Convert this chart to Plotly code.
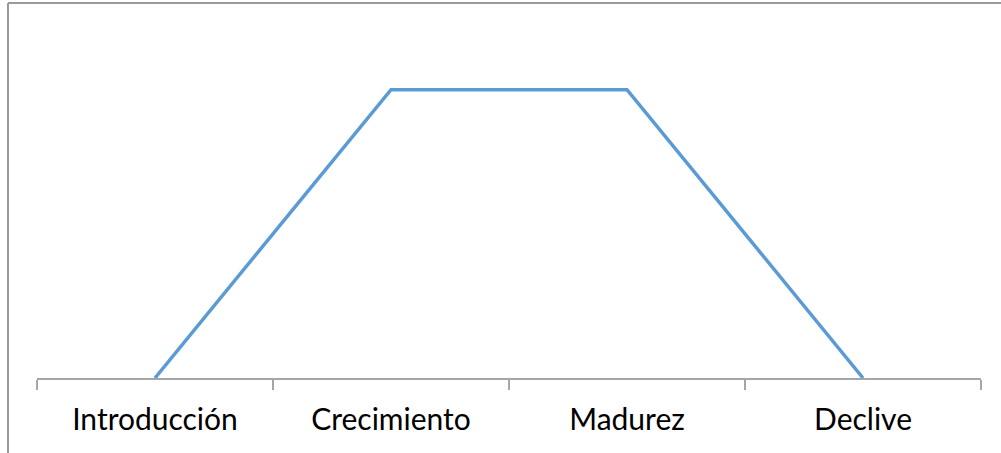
import plotly.graph_objects as go

categories = ["Introducción", "Crecimiento", "Madurez", "Declive"]
values = [0, 1, 1, 0]

W, H = 1001, 453
ML, MR, MT, MB = 37, 20, 32, 75
pw, ph = W - ML - MR, H - MT - MB

fig = go.Figure()
fig.add_trace(go.Scatter(
    x=categories, y=values, mode="lines",
    line=dict(color="#5B9BD5", width=3.5),
    hoverinfo="skip", showlegend=False,
))

def px_x(p):
    return (p - ML) / pw

def px_y(p):
    return (H - MB - p) / ph

border = dict(color="#9A9A9A", width=2)
fig.add_shape(type="line", xref="paper", yref="paper",
              x0=px_x(8), x1=px_x(1005), y0=px_y(3), y1=px_y(3), line=border)
fig.add_shape(type="line", xref="paper", yref="paper",
              x0=px_x(8), x1=px_x(8), y0=px_y(3), y1=px_y(460), line=border)

fig.update_layout(
    width=W, height=H,
    margin=dict(l=ML, r=MR, t=MT, b=MB),
    paper_bgcolor="white", plot_bgcolor="white",
    font=dict(family="Lato", size=30, color="#000000"),
    xaxis=dict(
        type="category", range=[-0.5, 3.5],
        showline=True, linecolor="#A6A6A6", linewidth=1.5,
        ticks="outside", tickson="boundaries", ticklen=10,
        tickcolor="#A6A6A6", tickwidth=1.5,
        showgrid=False, zeroline=False,
        ticklabelstandoff=14,
        tickfont=dict(family="Lato", size=30, color="#000000"),
    ),
    yaxis=dict(range=[0, 1.2], visible=False, showgrid=False, zeroline=False),
)

fig.write_html(
    "out.html",
    config={"displayModeBar": False, "staticPlot": True},
    post_script="document.body.style.margin='0';document.body.style.overflow='hidden';",
)
